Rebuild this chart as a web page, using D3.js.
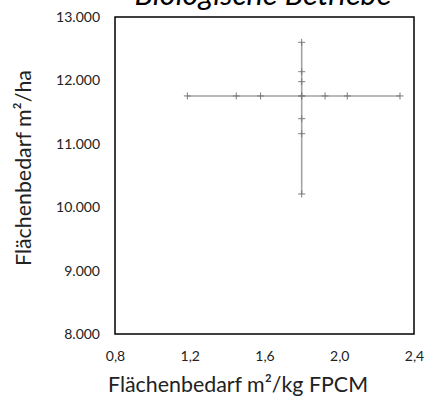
<!DOCTYPE html>
<html lang="de">
<head>
    <meta charset="UTF-8">
    <title>Biologische Betriebe</title>
    <script src="https://cdnjs.cloudflare.com/ajax/libs/d3/7.8.5/d3.min.js"></script>
    <style>
        body { margin: 0; background: #fff; }
        svg { display: block; font-family: Lato, 'Open Sans', sans-serif; }
        .tick text { fill: #222; }
        .axis-title { fill: #222; }
    </style>
</head>
<body>
    <svg id="chart" width="427" height="401"></svg>
    <script>
        // Flächenbedarf variiert über m²/kg FPCM (Fläche je ha konstant)
        const fpcmSeriesX = [1.187, 1.449, 1.579, 1.799, 1.924, 2.043, 2.325];
        const fpcmSeriesY = [11755, 11755, 11755, 11755, 11755, 11755, 11755];
        // Flächenbedarf variiert über m²/ha (FPCM konstant)
        const haSeriesX = [1.799, 1.799, 1.799, 1.799, 1.799, 1.799, 1.799];
        const haSeriesY = [12601, 12137, 11980, 11755, 11396, 11159, 10208];

        const xTicks = [0.8, 1.2, 1.6, 2.0, 2.4];
        const yTicks = [8000, 9000, 10000, 11000, 12000, 13000];

        const de = d3.formatLocale({ decimal: ',', thousands: '.', grouping: [3], currency: ['', ' €'] });

        const svg = d3.select('#chart');
        const margin = { top: 17, right: 13, bottom: 67, left: 115 };
        const width = +svg.attr('width') - margin.left - margin.right;
        const height = +svg.attr('height') - margin.top - margin.bottom;

        const x = d3.scaleLinear().domain([0.8, 2.4]).range([0, width]);
        const y = d3.scaleLinear().domain([8000, 13000]).range([height, 0]);

        // scale font size so a text gets the width it has in the original
        function fitWidth(sel, target) {
            const fs = +sel.attr('font-size');
            const len = sel.node().getComputedTextLength();
            if (len > 0) sel.attr('font-size', (fs * target / len).toFixed(2));
        }

        const g = svg.append('g').attr('transform', `translate(${margin.left},${margin.top})`);

        // axes (no tick marks, labels only)
        const xAxis = g.append('g')
            .attr('transform', `translate(0,${height})`)
            .call(d3.axisBottom(x).tickValues(xTicks).tickSize(0).tickPadding(17).tickFormat(de.format('.1f')));
        const yAxis = g.append('g')
            .call(d3.axisLeft(y).tickValues(yTicks).tickSize(0).tickPadding(15).tickFormat(de.format(',.0f')));
        [xAxis, yAxis].forEach(a => {
            a.select('.domain').remove();
            a.selectAll('text').attr('font-size', 14).attr('font-family', 'Lato, sans-serif');
        });

        // data lines
        const series = [
            fpcmSeriesX.map((v, i) => [v, fpcmSeriesY[i]]),
            haSeriesX.map((v, i) => [v, haSeriesY[i]])
        ];
        const line = d3.line().x(d => x(d[0])).y(d => y(d[1]));
        g.selectAll('.series')
            .data(series)
            .join('path')
            .attr('class', 'series')
            .attr('d', line)
            .attr('fill', 'none')
            .attr('stroke', '#a3a3a3')
            .attr('stroke-width', 1.6);

        // plus markers
        const m = 3.5;
        series.forEach(s => {
            g.append('g').selectAll('path')
                .data(s)
                .join('path')
                .attr('d', d => {
                    const px = x(d[0]), py = y(d[1]);
                    return `M${px - m},${py}H${px + m}M${px},${py - m}V${py + m}`;
                })
                .attr('stroke', '#7a7a7a')
                .attr('stroke-width', 1);
        });

        // plot border
        g.append('rect')
            .attr('width', width)
            .attr('height', height)
            .attr('fill', 'none')
            .attr('stroke', '#000')
            .attr('stroke-width', 1.5);

        // titles
        const title = svg.append('text')
            .attr('x', 263)
            .attr('y', 5)
            .attr('text-anchor', 'middle')
            .attr('font-style', 'italic')
            .attr('font-size', 24)
            .text('Biologische Betriebe');
        fitWidth(title, 257);

        const xTitle = svg.append('text')
            .attr('class', 'axis-title')
            .attr('x', 238)
            .attr('y', 392)
            .attr('text-anchor', 'middle')
            .attr('font-size', 19)
            .text('Flächenbedarf m²/kg FPCM');
        fitWidth(xTitle, 260);

        const yTitle = svg.append('text')
            .attr('class', 'axis-title')
            .attr('transform', 'translate(31,168) rotate(-90)')
            .attr('text-anchor', 'middle')
            .attr('font-size', 19)
            .text('Flächenbedarf m²/ha');
        fitWidth(yTitle, 196);
    </script>
</body>
</html>
